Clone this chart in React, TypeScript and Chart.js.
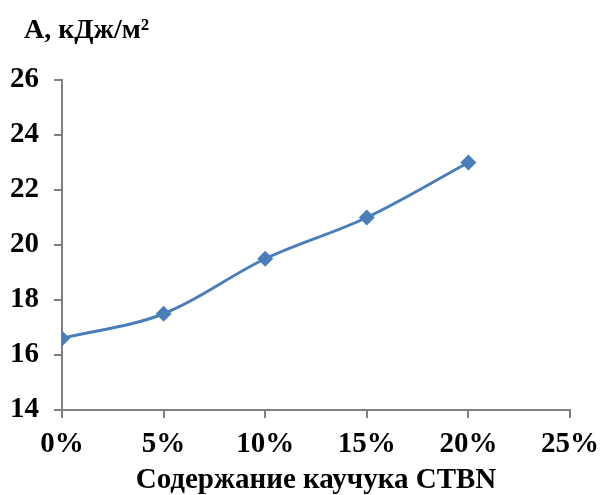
import React, { useEffect, useRef } from "react";
import { Chart, registerables } from "chart.js";

Chart.register(...registerables);

const xValues = [0, 5, 10, 15, 20];
const yValues = [16.6, 17.5, 19.5, 21, 23];
const yTitle = "А, кДж/м²";
const xTitle = "Содержание каучука CTBN";

const FONT = "'Liberation Serif', 'Times New Roman', serif";

const yTitlePlugin = {
  id: "yTitlePlugin",
  afterDraw(chart: any) {
    const { ctx, chartArea } = chart;
    ctx.save();
    ctx.font = `bold 28px ${FONT}`;
    ctx.fillStyle = "#000";
    ctx.textAlign = "left";
    ctx.textBaseline = "alphabetic";
    ctx.fillText(yTitle, chartArea.left - 38, chartArea.top - 42);
    ctx.restore();
  },
};

export default function App() {
  const ref = useRef<HTMLCanvasElement | null>(null);
  useEffect(() => {
    document.body.style.margin = "0";
    const chart = new Chart(ref.current!, {
      type: "line",
      data: {
        datasets: [
          {
            data: xValues.map((x, i) => ({ x, y: yValues[i] })),
            borderColor: "#4A7EBB",
            backgroundColor: "#4A7EBB",
            borderWidth: 3,
            pointStyle: "rectRot",
            pointRadius: 8,
            pointBorderWidth: 0,
            tension: 0.35,
          },
        ],
      },
      options: {
        animation: false,
        responsive: true,
        maintainAspectRatio: false,
        layout: { padding: { left: 0, right: 32, top: 80, bottom: 0 } },
        plugins: { legend: { display: false }, tooltip: { enabled: false } },
        scales: {
          x: {
            type: "linear",
            min: 0,
            max: 25,
            afterFit: (s: any) => {
              s.height = 85;
              s.paddingLeft = 0;
              s.paddingRight = 0;
            },
            ticks: {
              stepSize: 5,
              callback: (v: any) => v + "%",
              font: { family: FONT, size: 29, weight: "bold" },
              color: "#000",
              padding: 9,
              maxRotation: 0,
            },
            grid: { drawOnChartArea: false, tickLength: 8, color: "#808080", lineWidth: 2 },
            border: { color: "#808080", width: 2 },
            title: {
              display: true,
              text: xTitle,
              font: { family: FONT, size: 29, weight: "bold" },
              color: "#000",
              padding: { top: 0, bottom: -3 },
            },
          },
          y: {
            min: 14,
            max: 26,
            afterFit: (s: any) => {
              s.width = 62;
              s.paddingTop = 0;
              s.paddingBottom = 0;
            },
            ticks: {
              stepSize: 2,
              font: { family: FONT, size: 29, weight: "bold" },
              color: "#000",
              padding: 15,
            },
            grid: { drawOnChartArea: false, tickLength: 8, color: "#808080", lineWidth: 2 },
            border: { color: "#808080", width: 2 },
          },
        },
      },
      plugins: [yTitlePlugin],
    });
    return () => chart.destroy();
  }, []);
  return (
    <div style={{ position: "fixed", left: 0, top: 0, width: 602, height: 495 }}>
      <canvas ref={ref} />
    </div>
  );
}
